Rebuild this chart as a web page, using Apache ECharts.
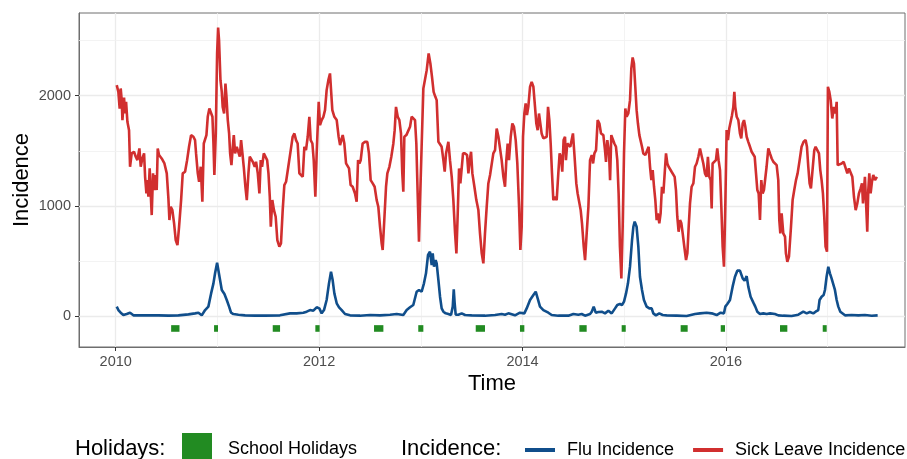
<!DOCTYPE html>
<html><head><meta charset="utf-8">
<script src="https://cdn.jsdelivr.net/npm/echarts@6/dist/echarts.min.js"></script>
<style>html,body{margin:0;padding:0;background:#fff}#c{width:907px;height:459px}</style>
</head><body><div id="c"></div>
<script>
// ---- data (decimal years) ----
const xTickLabels = [2010, 2012, 2014, 2016];
const xMinorGrid = [2011, 2013, 2015, 2017];
const yTickLabels = [0, 1000, 2000];
const yMinorGrid = [500, 1500, 2500];
const holidayYRange = [-140, -80];
const holidays = [
  [2010.545, 2010.627], [2010.967, 2011.006], [2011.544, 2011.616], [2011.963, 2012.005],
  [2012.540, 2012.632], [2012.975, 2013.025], [2013.540, 2013.631], [2013.975, 2014.018],
  [2014.559, 2014.631], [2014.975, 2015.015], [2015.555, 2015.624], [2015.949, 2015.991],
  [2016.532, 2016.604], [2016.952, 2016.991]
];
const flu = [
[2010.010,88],[2010.026,57],[2010.049,33],[2010.075,12],[2010.108,21],[2010.141,33],[2010.174,9],[2010.223,9],[2010.321,9],[2010.420,9],[2010.518,6],[2010.616,9],[2010.715,18],[2010.780,27],[2010.813,33],[2010.846,9],[2010.879,57],[2010.911,88],[2010.938,208],[2010.961,299],[2010.977,390],[2010.997,486],[2011.010,480],[2011.026,329],[2011.043,239],[2011.069,202],[2011.092,148],[2011.115,88],[2011.134,33],[2011.157,21],[2011.207,15],[2011.272,9],[2011.370,6],[2011.469,6],
[2011.615,9],[2011.714,27],[2011.779,27],[2011.845,33],[2011.878,42],[2011.911,57],[2011.943,51],[2011.976,82],[2012.002,72],[2012.025,27],[2012.048,57],[2012.074,148],[2012.097,299],[2012.117,405],[2012.133,329],[2012.150,208],[2012.173,118],[2012.196,82],[2012.222,57],[2012.255,21],[2012.304,9],[2012.402,6],[2012.501,12],[2012.599,9],[2012.697,15],[2012.763,21],[2012.828,12],[2012.861,57],[2012.894,82],[2012.926,103],[2012.959,223],[2012.982,239],[2013.008,223],[2013.031,299],[2013.051,390],[2013.071,556],[2013.090,586],[2013.107,465],[2013.117,571],[2013.130,450],[2013.146,510],
[2013.156,480],[2013.173,329],[2013.189,178],[2013.205,72],[2013.222,42],[2013.245,27],[2013.271,21],[2013.297,12],[2013.314,88],[2013.324,245],[2013.333,118],[2013.343,15],[2013.369,15],[2013.402,27],[2013.435,12],[2013.500,9],[2013.631,6],[2013.730,12],[2013.795,21],[2013.828,15],[2013.861,27],[2013.926,9],[2013.975,33],[2013.992,42],[2014.018,27],[2014.041,72],[2014.074,148],[2014.107,193],[2014.130,223],[2014.149,163],[2014.172,88],[2014.205,57],[2014.254,33],[2014.287,12],[2014.352,6],[2014.451,6],[2014.500,21],[2014.549,15],[2014.582,21],[2014.615,6],[2014.664,21],[2014.681,42],[2014.700,88],[2014.720,33],[2014.746,39],[2014.779,42],
[2014.811,27],[2014.844,51],[2014.877,27],[2014.910,72],[2014.932,103],[2014.958,112],[2014.978,103],[2014.998,133],[2015.018,208],[2015.037,299],[2015.057,450],[2015.077,692],[2015.090,812],[2015.103,858],[2015.122,812],[2015.139,631],[2015.155,359],[2015.175,239],[2015.194,148],[2015.221,88],[2015.247,72],[2015.270,72],[2015.286,27],[2015.312,9],[2015.345,27],[2015.378,12],[2015.417,9],[2015.516,6],[2015.614,3],[2015.696,21],[2015.745,27],[2015.810,33],[2015.860,27],[2015.909,12],[2015.948,33],[2015.981,27],[2015.994,88],[2016.014,112],[2016.040,148],[2016.066,269],[2016.089,359],[2016.112,414],[2016.138,414],[2016.165,344],[2016.184,323],[2016.204,365],[2016.220,269],[2016.243,178],[2016.270,124],[2016.289,88],[2016.309,42],[2016.335,21],[2016.368,27],[2016.401,21],[2016.434,27],
[2016.450,21],[2016.482,21],[2016.499,36],[2016.515,9],[2016.564,6],[2016.646,3],[2016.712,15],[2016.761,42],[2016.794,27],[2016.826,39],[2016.859,27],[2016.882,42],[2016.908,57],[2016.921,148],[2016.941,178],[2016.961,193],[2016.974,239],[2016.990,359],[2017.007,450],[2017.023,390],[2017.039,344],[2017.056,329],[2017.072,239],[2017.089,148],[2017.105,88],[2017.125,42],[2017.144,27],[2017.171,9],[2017.236,12],[2017.302,9],[2017.367,12],[2017.433,6],[2017.492,9]
];
const sickLeave = [
[2010.010,2096],[2010.026,2035],[2010.039,1884],[2010.049,2066],[2010.059,1960],[2010.066,1779],[2010.082,1984],[2010.092,1839],[2010.102,1945],[2010.115,1764],[2010.131,1688],[2010.141,1356],[2010.157,1477],[2010.180,1492],[2010.197,1447],[2010.213,1416],[2010.233,1522],[2010.246,1356],[2010.262,1431],[2010.279,1477],[2010.289,1265],[2010.302,1114],[2010.311,1235],[2010.321,1084],[2010.334,1341],[2010.344,1114],[2010.354,918],[2010.367,1296],[2010.380,1145],[2010.390,1281],[2010.403,1145],[2010.413,1522],[2010.426,1462],[2010.452,1431],[2010.479,1386],[2010.502,1296],[2010.518,1069],[2010.528,873],[2010.541,994],[2010.557,963],[2010.574,843],[2010.590,692],[2010.607,646],[2010.623,812],[2010.643,1054],[2010.659,1296],[2010.682,1311],[2010.702,1416],[2010.721,1537],[2010.741,1643],[2010.764,1628],[2010.780,1598],[2010.790,1477],[2010.807,1296],[2010.820,1220],[2010.836,1356],[2010.852,1039],[2010.866,1567],[2010.879,1582],[2010.892,1643],[2010.905,1809],[2010.921,1884],[2010.938,1899],[2010.951,1809],[2010.961,1567],[2010.970,1281],[2010.984,1658],[2010.997,2383],[2011.007,2618],[2011.016,2504],[2011.030,2141],[2011.043,2035],[2011.052,1899],[2011.066,1839],[2011.079,2111],[2011.089,1990],[2011.102,1779],[2011.115,1658],[2011.125,1477],[2011.138,1371],[2011.151,1537],[2011.161,1643],[2011.174,1477],[2011.190,1537],[2011.207,1522],[2011.220,1447],[2011.233,1598],[2011.246,1477],[2011.259,1356],[2011.275,1175],[2011.289,1054],[2011.305,1296],[2011.318,1447],[2011.331,1462],[2011.348,1401],[2011.367,1356],[2011.380,1401],[2011.397,1296],[2011.413,1114],[2011.426,1416],[2011.439,1356],[2011.456,1477],[2011.472,1492],[2011.489,1416],[2011.502,1296],[2011.515,1084],[2011.525,812],
[2011.540,1054],[2011.556,963],[2011.573,903],[2011.589,692],[2011.609,631],[2011.625,661],[2011.642,963],[2011.658,1190],[2011.675,1220],[2011.697,1356],[2011.721,1507],[2011.740,1628],[2011.757,1658],[2011.773,1598],[2011.789,1567],[2011.806,1296],[2011.822,1296],[2011.839,1265],[2011.855,1537],[2011.871,1507],[2011.888,1628],[2011.904,1809],[2011.917,1598],[2011.934,1567],[2011.947,1416],[2011.963,1084],[2011.976,1477],[2011.996,1945],[2012.009,1733],[2012.025,1779],[2012.042,1809],[2012.058,1869],[2012.074,2051],[2012.091,2141],[2012.107,2202],[2012.120,2202],[2012.130,1869],[2012.150,1809],[2012.173,1779],[2012.192,1628],[2012.206,1552],[2012.219,1537],[2012.232,1643],[2012.248,1567],[2012.265,1386],[2012.281,1386],[2012.294,1341],[2012.310,1190],[2012.330,1175],[2012.353,1114],[2012.369,1039],[2012.383,1416],[2012.396,1386],[2012.409,1416],[2012.428,1567],[2012.451,1582],[2012.474,1582],[2012.490,1477],[2012.507,1235],[2012.527,1205],[2012.546,1175],[2012.566,1054],[2012.582,994],[2012.599,812],[2012.615,661],[2012.625,601],[2012.641,873],[2012.658,1175],[2012.671,1296],[2012.691,1356],[2012.710,1447],[2012.730,1567],[2012.743,1688],[2012.756,1899],[2012.773,1809],[2012.789,1779],[2012.805,1658],[2012.818,1296],[2012.828,1130],[2012.838,1628],[2012.858,1643],[2012.877,1658],[2012.894,1718],[2012.910,1809],[2012.926,1824],[2012.943,1779],[2012.956,1567],[2012.969,1114],[2012.982,676],[2012.992,1024],[2013.008,1537],[2013.025,2066],[2013.041,2081],[2013.058,2232],[2013.077,2383],[2013.094,2292],[2013.110,2171],[2013.126,2035],[2013.143,1990],[2013.156,1960],
[2013.173,1582],[2013.189,1567],[2013.205,1537],[2013.222,1416],[2013.235,1311],[2013.248,1477],[2013.271,1582],[2013.287,1416],[2013.304,1265],[2013.320,1054],[2013.337,752],[2013.350,571],[2013.363,933],[2013.376,1341],[2013.389,1205],[2013.402,1341],[2013.415,1477],[2013.435,1477],[2013.455,1462],[2013.468,1296],[2013.481,1416],[2013.494,1492],[2013.507,1296],[2013.527,1175],[2013.546,1054],[2013.566,963],[2013.582,752],[2013.599,571],[2013.615,480],[2013.631,752],[2013.648,994],[2013.664,1205],[2013.681,1281],[2013.697,1296],[2013.713,1477],[2013.730,1507],[2013.746,1703],[2013.763,1628],[2013.779,1613],[2013.795,1416],[2013.812,1265],[2013.828,1175],[2013.841,1416],[2013.854,1567],[2013.867,1416],[2013.884,1628],[2013.900,1748],[2013.916,1718],[2013.933,1598],[2013.949,1386],[2013.966,994],[2013.979,601],[2013.992,812],[2014.005,1628],[2014.018,1839],[2014.031,1930],[2014.044,1824],[2014.057,1899],[2014.074,2081],[2014.090,2126],[2014.107,2081],[2014.123,1899],[2014.136,1748],[2014.149,1688],[2014.162,1839],[2014.175,1839],[2014.188,1658],[2014.205,1613],[2014.221,1628],[2014.238,1628],[2014.251,1899],[2014.264,1779],[2014.277,1567],[2014.290,1296],[2014.303,1054],[2014.319,1084],[2014.336,1054],[2014.352,1296],[2014.365,1477],[2014.378,1447],[2014.391,1311],[2014.404,1598],[2014.418,1628],[2014.427,1416],[2014.440,1567],[2014.457,1552],[2014.470,1537],[2014.483,1552],[2014.496,1658],[2014.512,1447],[2014.529,1205],[2014.542,1114],[2014.558,1114],[2014.572,963],[2014.585,843],[2014.602,631],[2014.615,510],[2014.631,752],[2014.648,994],[2014.664,1416],[2014.681,1462],[2014.694,1386],[2014.707,1477],[2014.723,1507],[2014.739,1779],[2014.756,1748],[2014.772,1658],
[2014.795,1643],[2014.811,1507],[2014.821,1401],[2014.834,1598],[2014.851,1477],[2014.861,1235],[2014.873,1643],[2014.887,1628],[2014.903,1567],[2014.919,1537],[2014.932,1416],[2014.945,1114],[2014.958,631],[2014.972,344],[2014.985,812],[2014.998,1477],[2015.011,1884],[2015.024,1809],[2015.040,1839],[2015.057,1960],[2015.070,2247],[2015.083,2347],[2015.096,2292],[2015.109,2081],[2015.122,1869],[2015.135,1748],[2015.149,1643],[2015.162,1628],[2015.175,1537],[2015.188,1477],[2015.208,1462],[2015.227,1477],[2015.240,1537],[2015.254,1356],[2015.267,1235],[2015.280,1326],[2015.293,1175],[2015.306,1054],[2015.319,873],[2015.332,933],[2015.345,843],[2015.358,933],[2015.371,1175],[2015.385,1114],[2015.398,1296],[2015.411,1477],[2015.424,1386],[2015.437,1356],[2015.450,1341],[2015.466,1311],[2015.483,1326],[2015.496,1265],[2015.509,1145],[2015.522,903],[2015.535,767],[2015.549,873],[2015.562,843],[2015.575,752],[2015.591,631],[2015.608,510],[2015.621,571],[2015.634,812],[2015.647,1024],[2015.663,1175],[2015.680,1205],[2015.696,1356],[2015.712,1386],[2015.729,1447],[2015.745,1522],[2015.761,1507],[2015.778,1386],[2015.794,1296],[2015.810,1265],[2015.823,1447],[2015.837,1265],[2015.850,1235],[2015.860,978],[2015.869,1386],[2015.886,1401],[2015.902,1416],[2015.915,1522],[2015.928,1416],[2015.942,1326],[2015.955,994],[2015.968,631],[2015.981,450],[2015.994,994],[2016.007,1688],[2016.020,1598],[2016.033,1703],[2016.046,1688],[2016.060,1824],[2016.073,1899],[2016.083,2035],[2016.092,1899],[2016.106,1809],[2016.122,1779],[2016.138,1658],[2016.151,1613],[2016.165,1748],[2016.178,1779],[2016.191,1718],[2016.204,1628],[2016.220,1582],[2016.237,1537],[2016.253,1492],[2016.270,1477],[2016.283,1447],[2016.296,1296],[2016.309,1145],[2016.322,1114],[2016.335,873],[2016.348,1235],[2016.361,1114],[2016.374,1145],
[2016.400,1356],[2016.417,1522],[2016.433,1477],[2016.450,1431],[2016.466,1401],[2016.482,1386],[2016.499,1371],[2016.515,1235],[2016.525,873],[2016.535,752],[2016.548,933],[2016.564,752],[2016.581,722],[2016.590,571],[2016.604,495],[2016.620,541],[2016.640,812],[2016.656,1054],[2016.672,1145],[2016.689,1235],[2016.705,1296],[2016.725,1416],[2016.744,1537],[2016.764,1582],[2016.784,1598],[2016.797,1537],[2016.810,1356],[2016.823,1205],[2016.836,1160],[2016.853,1145],[2016.869,1507],[2016.882,1537],[2016.899,1522],[2016.915,1477],[2016.928,1326],[2016.941,1235],[2016.954,1114],[2016.967,903],[2016.980,631],[2016.994,586],[2017.003,2081],[2017.017,2035],[2017.030,1960],[2017.046,1794],[2017.062,1899],[2017.079,1839],[2017.089,1945],[2017.099,1371],[2017.118,1356],[2017.138,1386],[2017.158,1401],[2017.177,1386],[2017.194,1296],[2017.210,1341],[2017.226,1356],[2017.243,1265],[2017.259,1084],[2017.276,963],[2017.292,1024],[2017.308,1114],[2017.325,1160],[2017.338,1205],[2017.348,1024],[2017.357,1145],[2017.367,1265],[2017.377,1054],[2017.390,767],[2017.400,1145],[2017.410,1296],[2017.423,1114],[2017.436,1220],[2017.449,1281],[2017.466,1235],[2017.485,1265]
];

// ---- chart ----
const FONT = '"Liberation Sans", Arial, sans-serif';
const GRID_MAJOR = '#EBEBEB';
const GRID_MINOR = '#F0F0F0';
const chart = echarts.init(document.getElementById('c'), null, {renderer: 'canvas'});

const gridLines = [].concat(
  xTickLabels.map(v => ({xAxis: v, lineStyle: {color: GRID_MAJOR, width: 1.3, type: 'solid'}})),
  xMinorGrid.map(v => ({xAxis: v, lineStyle: {color: GRID_MINOR, width: 0.8, type: 'solid'}})),
  yTickLabels.map(v => ({yAxis: v, lineStyle: {color: GRID_MAJOR, width: 1.3, type: 'solid'}})),
  yMinorGrid.map(v => ({yAxis: v, lineStyle: {color: GRID_MINOR, width: 0.8, type: 'solid'}}))
);

chart.setOption({
  animation: false,
  backgroundColor: '#fff',
  textStyle: {fontFamily: FONT},
  grid: {left: 79, top: 13, right: 2, bottom: 112, containLabel: false, outerBoundsMode: 'none',
         show: true, borderColor: '#6e6e6e', borderWidth: 1, backgroundColor: '#fff'},
  xAxis: {
    type: 'value', min: 2009.639, max: 2017.761,
    name: 'Time', nameLocation: 'middle', nameGap: 26, nameMoveOverlap: false,
    nameTextStyle: {fontSize: 22, color: '#000', fontFamily: FONT},
    axisLine: {show: true, onZero: false, lineStyle: {color: '#6e6e6e', width: 1}},
    axisTick: {show: true, length: 4, customValues: xTickLabels, lineStyle: {color: '#333', width: 1}},
    axisLabel: {customValues: xTickLabels, formatter: v => String(Math.round(v)), fontSize: 14.5, color: '#4D4D4D', margin: 7, fontFamily: FONT},
    splitLine: {show: false}
  },
  yAxis: {
    type: 'value', min: -278, max: 2750,
    name: 'Incidence', nameLocation: 'middle', nameGap: 46, nameMoveOverlap: false,
    nameTextStyle: {fontSize: 22, color: '#000', fontFamily: FONT},
    axisLine: {show: true, onZero: false, lineStyle: {color: '#6e6e6e', width: 1}},
    axisTick: {show: true, length: 4, customValues: yTickLabels, lineStyle: {color: '#333', width: 1}},
    axisLabel: {customValues: yTickLabels, formatter: v => String(Math.round(v)), fontSize: 14.5, color: '#4D4D4D', margin: 8, fontFamily: FONT},
    splitLine: {show: false}
  },
  legend: [
    {
      data: ['School Holidays'], left: 182, top: 433, padding: 0, orient: 'horizontal',
      icon: 'rect', itemWidth: 30, itemHeight: 32,
      textStyle: {fontSize: 18, color: '#000', fontFamily: FONT, padding: [0, 0, 0, 11]},
      selectedMode: false
    },
    {
      data: ['Flu Incidence', 'Sick Leave Incidence'], left: 525, top: 441, padding: 0, width: 600, orient: 'horizontal',
      icon: 'rect', itemWidth: 30, itemHeight: 4, itemGap: 19,
      textStyle: {fontSize: 18, color: '#000', fontFamily: FONT, padding: [0, 0, 0, 7]},
      selectedMode: false
    }
  ],
  graphic: [
    {type: 'text', left: 75, top: 438, style: {text: 'Holidays:', fontSize: 22, fill: '#000', fontFamily: FONT}},
    {type: 'text', left: 401, top: 438, style: {text: 'Incidence:', fontSize: 22, fill: '#000', fontFamily: FONT}}
  ],
  series: [
    {
      type: 'line', name: '_grid', data: [], silent: true, z: 1, legendHoverLink: false,
      markLine: {silent: true, z: 1, symbol: ['none', 'none'], label: {show: false}, animation: false, data: gridLines}
    },
    {
      type: 'custom', name: 'School Holidays', z: 3,
      itemStyle: {color: '#228B22'},
      encode: {x: [0, 1], y: [2, 3]},
      data: holidays.map(h => [h[0], h[1], holidayYRange[0], holidayYRange[1]]),
      renderItem: (params, api) => {
        const p0 = api.coord([api.value(0), api.value(3)]);
        const p1 = api.coord([api.value(1), api.value(2)]);
        return {type: 'rect', shape: {x: p0[0], y: p0[1], width: p1[0] - p0[0], height: p1[1] - p0[1]}, style: {fill: '#228B22'}};
      }
    },
    {
      type: 'line', name: 'Flu Incidence', data: flu, showSymbol: false, z: 4,
      itemStyle: {color: '#104E8B'}, lineStyle: {color: '#104E8B', width: 2.6}
    },
    {
      type: 'line', name: 'Sick Leave Incidence', data: sickLeave, showSymbol: false, z: 5,
      itemStyle: {color: '#D12F2F'}, lineStyle: {color: '#D12F2F', width: 2.6}
    }
  ]
});
</script>
</body></html>
